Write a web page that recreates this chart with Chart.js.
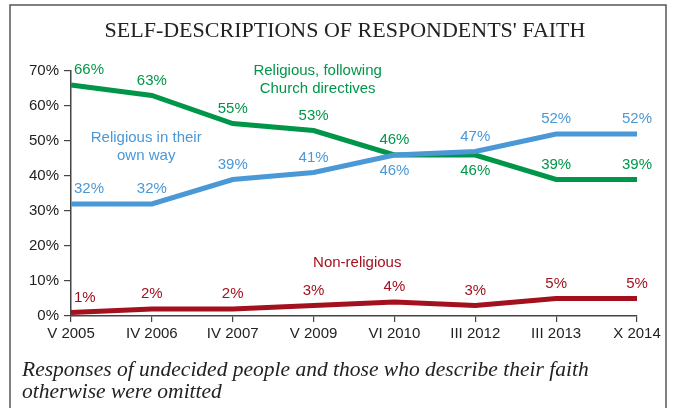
<!DOCTYPE html>
<html>
<head>
<meta charset="utf-8">
<style>
  html, body { margin: 0; padding: 0; background: #fff; }
  #wrap { width: 675px; height: 408px; position: relative; }
</style>
<script src="https://cdn.jsdelivr.net/npm/chart.js@4.4.1/dist/chart.umd.min.js"></script>
</head>
<body>
<div id="wrap"><canvas id="chart" width="675" height="408"></canvas></div>
<script>
const categories = ['V 2005', 'IV 2006', 'IV 2007', 'V 2009', 'VI 2010', 'III 2012', 'III 2013', 'X 2014'];
const ownWayValues = [32, 32, 39, 41, 46, 47, 52, 52];
const churchValues = [66, 63, 55, 53, 46, 46, 39, 39];
const nonReligiousValues = [1, 2, 2, 3, 4, 3, 5, 5];
const yTicks = [0, 10, 20, 30, 40, 50, 60, 70];

const TITLE = "SELF-DESCRIPTIONS OF RESPONDENTS' FAITH";
const NOTE = ['Responses of undecided people and those who describe their faith', 'otherwise were omitted'];

const GREEN = '#00964a', BLUE = '#4a98d6', RED = '#a3111f';
const SANS = '"Liberation Sans", Arial, sans-serif';
const SERIF = '"Liberation Serif", "Times New Roman", serif';

// series names, placed in data units (category index, value)
const seriesNames = [
  { lines: ['Religious, following', 'Church directives'], color: GREEN, at: [3.05, 67.6] },
  { lines: ['Religious in their', 'own way'], color: BLUE, at: [0.93, 48.4] },
  { lines: ['Non-religious'], color: RED, at: [3.54, 15.1] },
];

const framePlugin = {
  id: 'frame',
  beforeDraw(chart) {
    const ctx = chart.ctx;
    ctx.save();
    ctx.fillStyle = '#fff';
    ctx.fillRect(0, 0, chart.width, chart.height);
    ctx.strokeStyle = '#555';
    ctx.lineWidth = 1.5;
    ctx.strokeRect(10, 5, 656, 420);
    ctx.fillStyle = '#222';
    ctx.font = '22px ' + SERIF;
    ctx.textAlign = 'center';
    ctx.textBaseline = 'middle';
    ctx.fillText(TITLE, 345, 31);
    ctx.font = 'italic 21.5px ' + SERIF;
    ctx.textAlign = 'left';
    ctx.fillText(NOTE[0], 22, 370);
    ctx.fillText(NOTE[1], 22, 392);
    ctx.restore();
  },
  afterDatasetsDraw(chart) {
    const ctx = chart.ctx;
    const x = chart.scales.x, y = chart.scales.y;
    ctx.save();
    ctx.font = '15px ' + SANS;
    ctx.textBaseline = 'middle';
    chart.data.datasets.forEach(ds => {
      ctx.fillStyle = ds.borderColor;
      ds.data.forEach((v, i) => {
        const px = x.getPixelForValue(i);
        const py = y.getPixelForValue(v);
        const below = (ds.labelBelow || []).includes(i);
        ctx.textAlign = i === 0 ? 'left' : 'center';
        ctx.fillText(v + '%', i === 0 ? px + 3 : px, below ? py + 16 : py - 15);
      });
    });
    ctx.textAlign = 'center';
    seriesNames.forEach(n => {
      ctx.fillStyle = n.color;
      const cx = x.getPixelForValue(n.at[0]);
      const cy = y.getPixelForValue(n.at[1]);
      const top = cy - (n.lines.length - 1) * 9;
      n.lines.forEach((t, k) => ctx.fillText(t, cx, top + k * 18));
    });
    ctx.restore();
  }
};

new Chart(document.getElementById('chart'), {
  type: 'line',
  data: {
    labels: categories,
    datasets: [
      { label: 'Religious in their own way', data: ownWayValues, borderColor: BLUE, labelBelow: [4] },
      { label: 'Religious, following Church directives', data: churchValues, borderColor: GREEN, labelBelow: [5] },
      { label: 'Non-religious', data: nonReligiousValues, borderColor: RED },
    ].map(d => Object.assign({ borderWidth: 5, pointRadius: 0, tension: 0, fill: false, borderJoinStyle: 'miter' }, d)),
  },
  options: {
    responsive: false,
    animation: false,
    devicePixelRatio: 1,
    layout: { padding: { left: 0, top: 71, right: 38, bottom: 0 } },
    plugins: { legend: { display: false }, tooltip: { enabled: false } },
    scales: {
      x: {
        offset: false,
        grid: { drawOnChartArea: false, drawTicks: true, tickLength: 6, color: '#444', lineWidth: 1.2 },
        border: { color: '#444', width: 1.5 },
        ticks: { color: '#222', font: { size: 15, family: SANS }, maxRotation: 0, autoSkip: false, padding: 3 },
        afterFit: s => { s.height = 92; },
      },
      y: {
        min: 0,
        max: 70,
        afterBuildTicks: s => { s.ticks = yTicks.map(v => ({ value: v })); },
        grid: { drawOnChartArea: false, drawTicks: true, tickLength: 7, color: '#444', lineWidth: 1.2 },
        border: { color: '#444', width: 1.5 },
        ticks: { color: '#222', font: { size: 15, family: SANS }, padding: 5, callback: v => v + '%' },
        afterFit: s => { s.width = 71; },
      },
    },
  },
  plugins: [framePlugin],
});
</script>
</body>
</html>
